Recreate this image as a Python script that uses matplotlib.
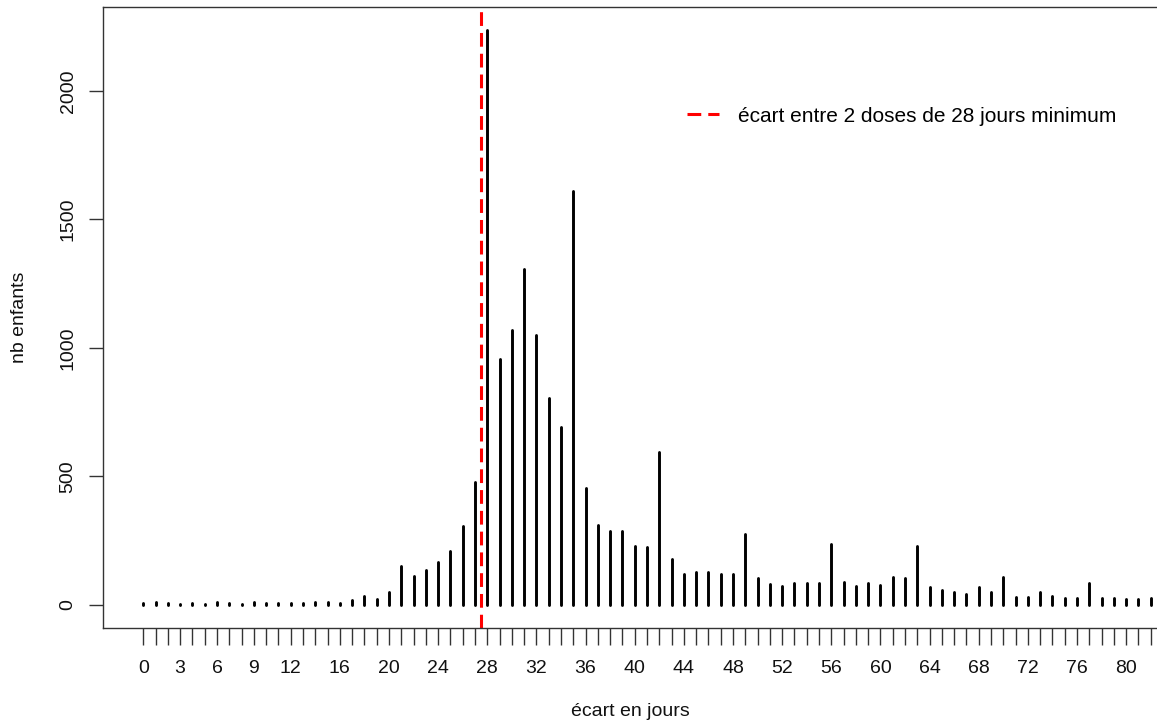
import numpy as np
import matplotlib
matplotlib.use('Agg')
import matplotlib.pyplot as plt


plt.rc('font', family=['Liberation Sans', 'DejaVu Sans'], size=14)

# number of children per gap (days) between the two doses
days = np.arange(0, 83)
counts = [7, 10, 7, 4, 6, 4, 11, 7, 5, 13,
          7, 6, 8, 6, 11, 12, 9, 18, 36, 22,
          52, 153, 114, 135, 166, 209, 309, 480, 2235, 956,
          1070, 1306, 1052, 807, 693, 1610, 455, 312, 287, 288,
          228, 224, 595, 180, 119, 127, 127, 119, 119, 277,
          104, 83, 74, 87, 84, 84, 236, 91, 74, 86,
          77, 109, 106, 228, 69, 58, 52, 44, 70, 52,
          109, 32, 33, 51, 36, 28, 29, 87, 27, 29,
          22, 22, 27]
tick_labels = [0, 3, 6, 9, 12, 16, 20, 24, 28, 32, 36, 40, 44, 48, 52,
               56, 60, 64, 68, 72, 76, 80]
y_ticks = [0, 500, 1000, 1500, 2000]
min_gap = 27.5
legend_text = "écart entre 2 doses de 28 jours minimum"

W, H = 1157, 724
fig = plt.figure(figsize=(W / 100, H / 100), dpi=100)
# plot region is cut off on the right in the original, like the R device
ax = fig.add_axes([103 / W, 1 - 628 / H, (1191 - 103) / W, (628 - 7) / H])

bars = ax.vlines(days, 0, counts, color='black', lw=2.1)
bars.set_capstyle('round')

ax.axvline(min_gap, color='#ff0000', lw=2.2, dashes=(4.5, 2.3),
           label=legend_text)

ax.set_xlim(-3.28, 85.28)
ax.set_ylim(-89.5, 2326)

ax.set_xticks(days, minor=True)
ax.set_xticks(tick_labels)
ax.set_xticklabels([str(t) for t in tick_labels])
ax.tick_params(axis='x', which='both', length=12, width=1, color='#333333',
               pad=11, labelcolor='#111111', labelsize=14)
ax.set_yticks(y_ticks)
ax.set_yticklabels([str(t) for t in y_ticks], rotation=90, va='center')
ax.tick_params(axis='y', length=10, width=1, color='#333333', pad=9,
               labelcolor='#111111', labelsize=14)

for side in ['left', 'top', 'bottom', 'right']:
    ax.spines[side].set_color('#333333')
    ax.spines[side].set_linewidth(1)

fig.text(630 / W, 1 - 712 / H, "écart en jours", ha='center', va='center',
         fontsize=14, color='#111111')
fig.text(20 / W, 1 - 317 / H, "nb enfants", ha='center', va='center',
         rotation=90, fontsize=14, color='#111111')

ax.legend(loc='center left', bbox_to_anchor=(687 / W, 1 - 116 / H),
          bbox_transform=fig.transFigure, frameon=False, borderpad=0,
          borderaxespad=0, handlelength=1.55, handletextpad=0.92,
          fontsize=15)

fig.savefig('out.png', dpi=100)
